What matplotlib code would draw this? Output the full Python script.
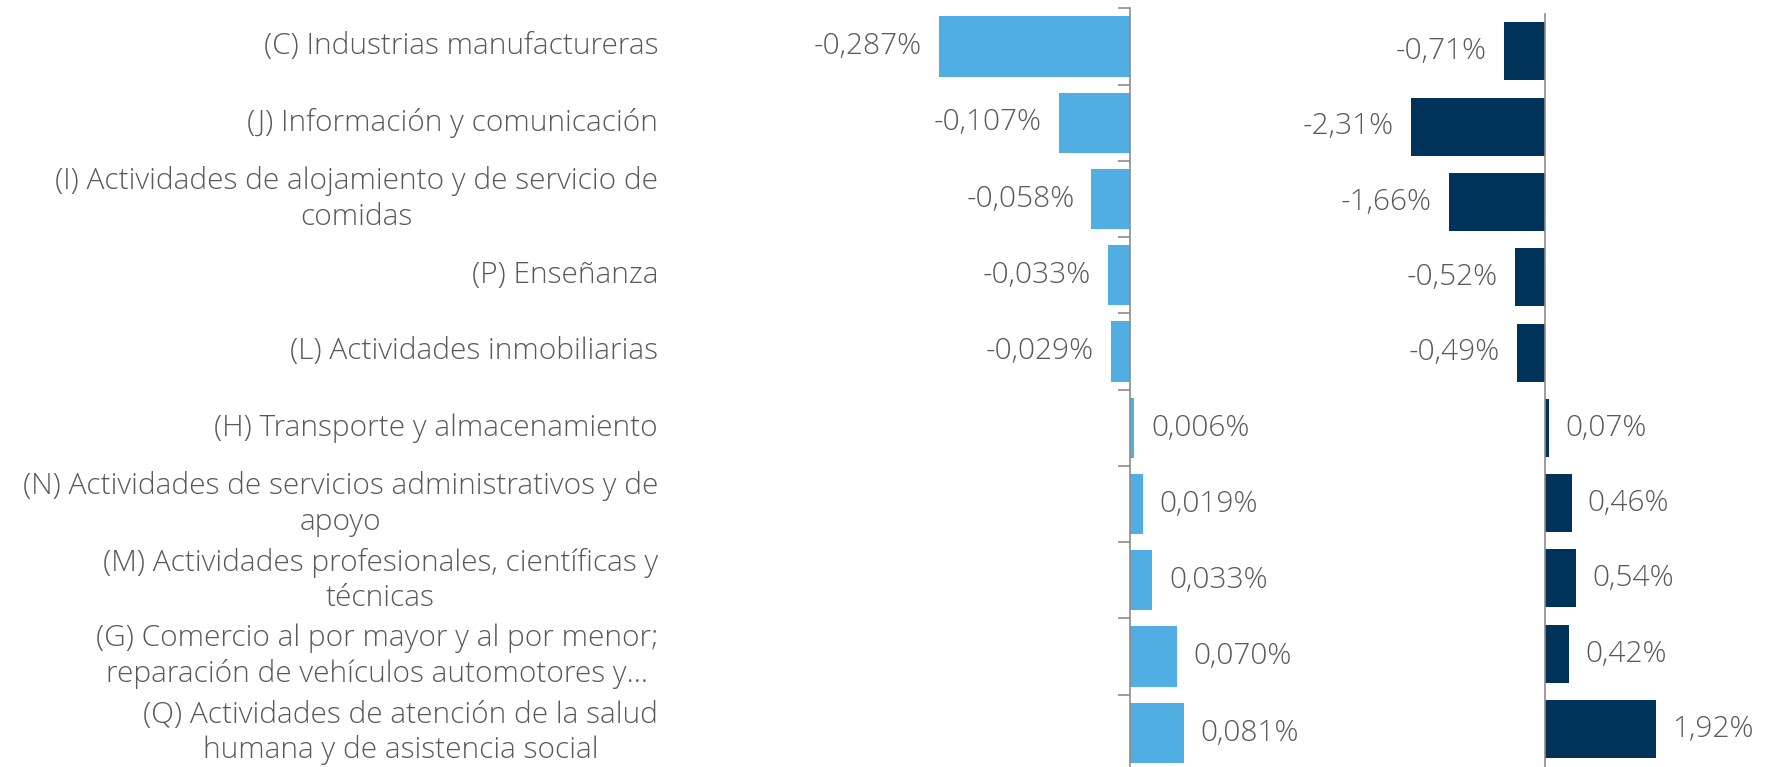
import numpy as np
import matplotlib.pyplot as plt
import matplotlib.transforms as mtransforms

# DATA
categories = [
    "(C) Industrias manufactureras",
    "(J) Información y comunicación",
    "(I) Actividades de alojamiento y de servicio de\ncomidas",
    "(P) Enseñanza",
    "(L) Actividades inmobiliarias",
    "(H) Transporte y almacenamiento",
    "(N) Actividades de servicios administrativos y de\napoyo",
    "(M) Actividades profesionales, científicas y\ntécnicas",
    "(G) Comercio al por mayor y al por menor;\nreparación de vehículos automotores y…",
    "(Q) Actividades de atención de la salud\nhumana y de asistencia social",
]
contribution = [-0.287, -0.107, -0.058, -0.033, -0.029, 0.006, 0.019, 0.033, 0.070, 0.081]
variation = [-0.71, -2.31, -1.66, -0.52, -0.49, 0.07, 0.46, 0.54, 0.42, 1.92]

LIGHT = "#50AEE2"
NAVY = "#003359"
TEXT = "#595959"
AXIS = "#8C8C8C"

plt.rcParams['font.family'] = ['Open Sans', 'DejaVu Sans']
plt.rcParams['font.weight'] = 'light'
FS = 21.5

W, H = 1770, 767
fig = plt.figure(figsize=(W / 100, H / 100), dpi=100)

def px_axes(zero_x, px_per_unit, xlim, top, bottom):
    left = zero_x + xlim[0] * px_per_unit
    width = (xlim[1] - xlim[0]) * px_per_unit
    return fig.add_axes([left / W, (H - bottom) / H, width / W, (bottom - top) / H])

n = len(categories)
y = np.arange(n)

# LEFT PANEL
ax1 = px_axes(1130, 665, (-0.30, 0.10), 8.3, 771)
ax1.barh(y, contribution, height=0.79, color=LIGHT)
ax1.set_xlim(-0.30, 0.10)
ax1.set_ylim(n - 0.5, -0.5)
for v, yy in zip(contribution, y):
    lab = f"{v:.3f}%".replace(".", ",")
    off = -17 if v < 0 else 17
    ax1.annotate(lab, (v, yy), xytext=(off, 0), textcoords='offset pixels',
                 ha='right' if v < 0 else 'left', va='center', fontsize=FS, color=TEXT)
ax1.set_yticks(np.arange(-0.5, n, 1))
ax1.set_yticklabels([])
ax1.tick_params(axis='y', direction='out', length=9, color=AXIS, width=1.2)
ax1.set_xticks([])

# category labels
trans = mtransforms.blended_transform_factory(fig.transFigure, ax1.transData)
for c, yy in zip(categories, y):
    ax1.text(658 / W, yy, c, transform=trans, ha='right', va='center',
             multialignment='center', fontsize=FS, color=TEXT, linespacing=1.25)

# RIGHT PANEL
ax2 = px_axes(1545, 58, (-2.5, 2.2), 13.75, 766.7)
ax2.barh(y, variation, height=0.77, color=NAVY)
ax2.set_xlim(-2.5, 2.2)
ax2.set_ylim(n - 0.5, -0.5)
for v, yy in zip(variation, y):
    lab = f"{v:.2f}%".replace(".", ",")
    off = -17 if v < 0 else 16
    ax2.annotate(lab, (v, yy), xytext=(off, 0), textcoords='offset pixels',
                 ha='right' if v < 0 else 'left', va='center', fontsize=FS, color=TEXT)
ax2.set_yticks([])
ax2.set_xticks([])

for ax in (ax1, ax2):
    for s in ('top', 'right', 'bottom'):
        ax.spines[s].set_visible(False)
    ax.spines['left'].set_position(('data', 0))
    ax.spines['left'].set_color(AXIS)
    ax.spines['left'].set_linewidth(1.2)
    ax.patch.set_alpha(0)

plt.savefig('out.png', dpi=100)
